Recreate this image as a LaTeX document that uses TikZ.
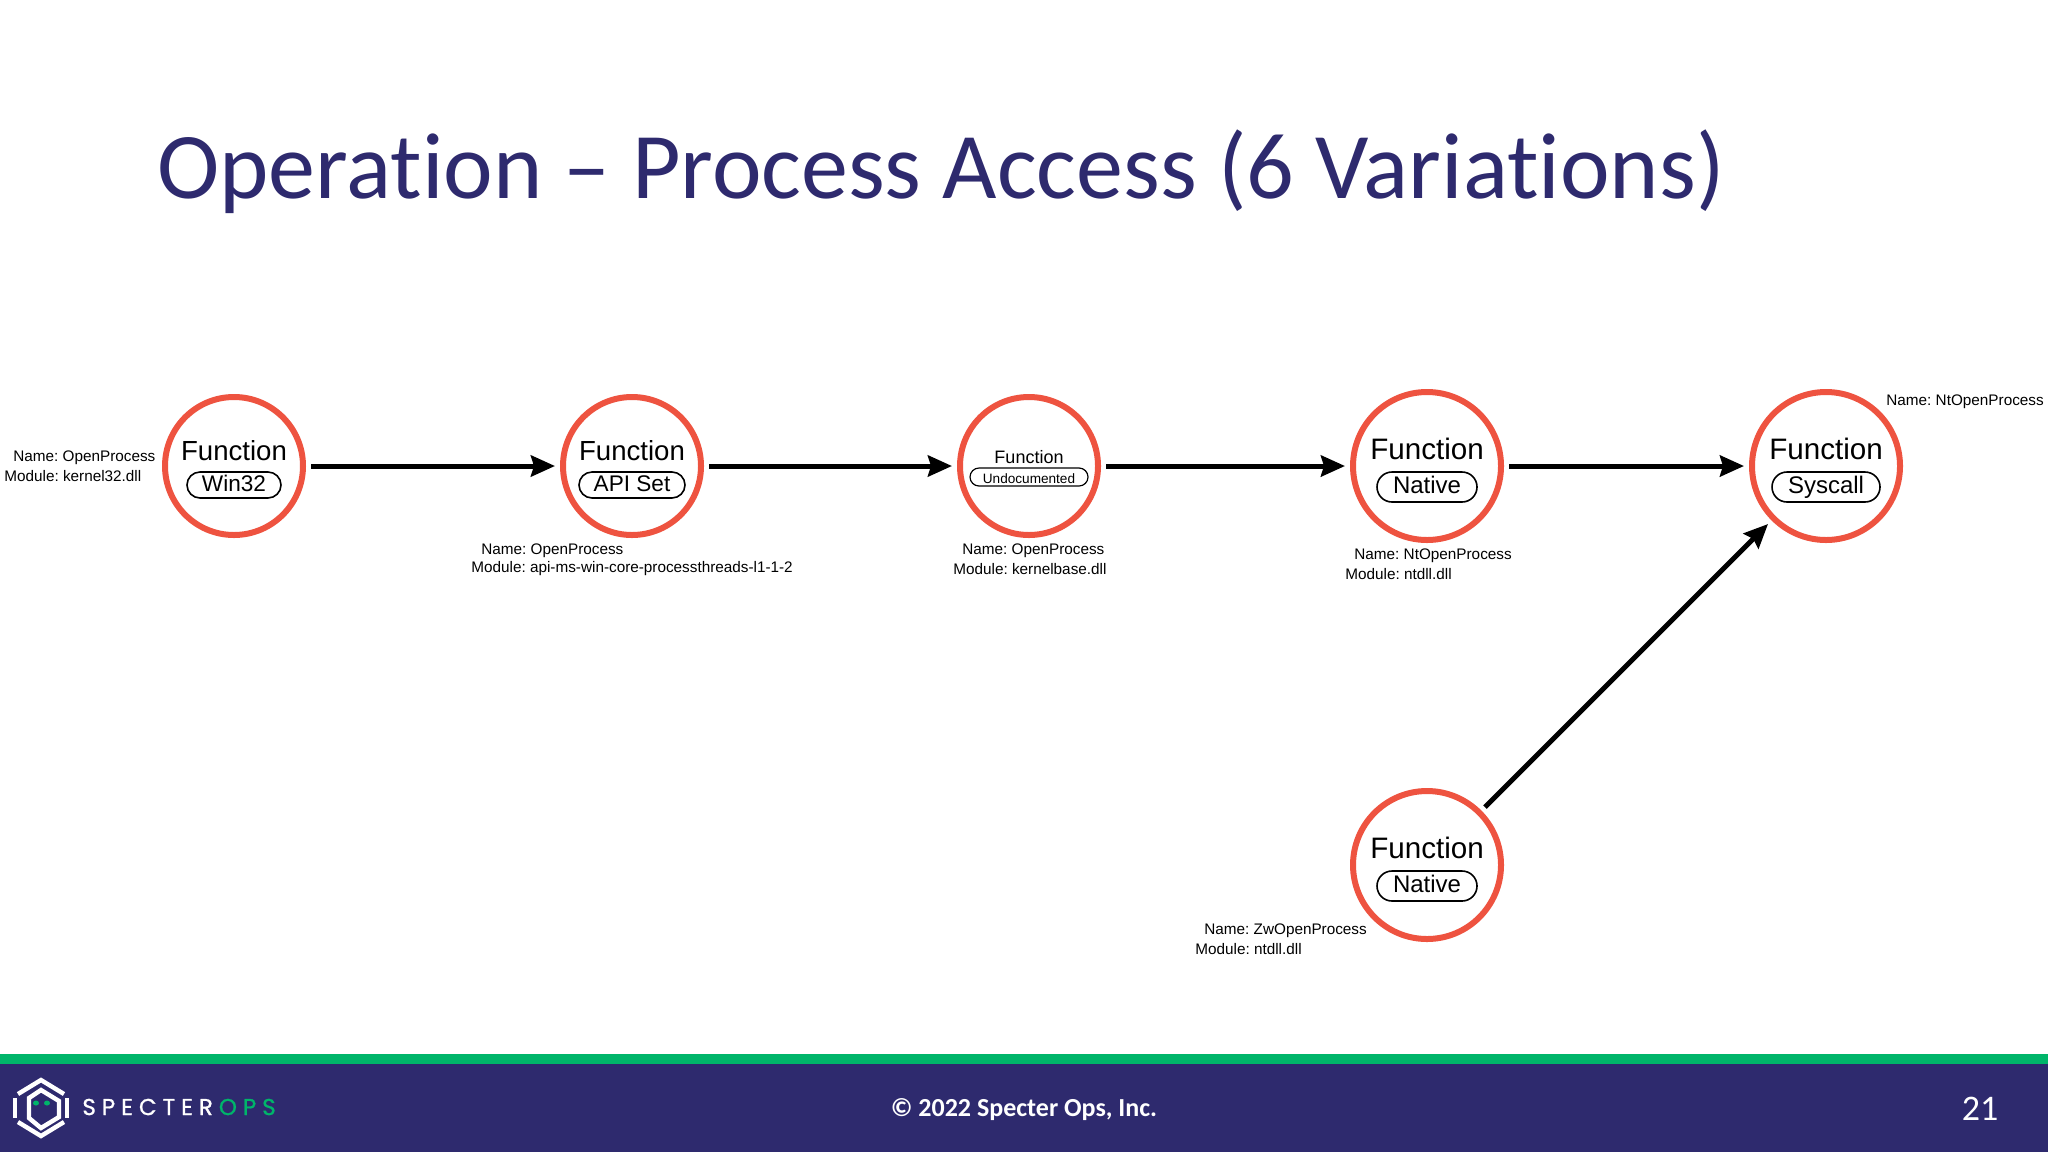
\documentclass[tikz,border=0pt]{standalone}
\usepackage{fontspec}
\setmainfont[Ligatures=NoCommon]{Carlito}
\newfontfamily\labelfont{Liberation Sans}
\newfontfamily\brandfont[LetterSpace=26,FakeBold=1]{Poppins}
\usetikzlibrary{arrows.meta,shapes.misc}

\definecolor{specternavy}{HTML}{2E2A6E}
\definecolor{spectergreen}{HTML}{00B56A}
\definecolor{ringred}{HTML}{EE5340}

\tikzset{
	funcsmall/.style={circle, draw=ringred, line width=3pt, fill=white, minimum size=69pt, inner sep=0pt},
	funcbig/.style={funcsmall, minimum size=74pt},
	fntext/.style={font=\labelfont\fontsize{13.8}{15}\selectfont, inner sep=0pt},
	kindpill/.style={rounded rectangle, draw=black, line width=0.8pt, font=\labelfont\fontsize{11.3}{13}\selectfont, inner sep=0pt, minimum width=47pt, minimum height=13pt, text height=1.5ex, text depth=0.2ex},
	info/.style={anchor=west, inner sep=0pt, font=\labelfont\fontsize{7.65}{10}\selectfont\frenchspacing},
	flow/.style={-{Stealth[length=12pt,width=10.5pt,inset=1.5pt]}, line width=2.5pt, shorten <=2.5pt, shorten >=2.5pt},
	logoline/.style={white, line width=2.2pt, line join=miter},
}

\begin{document}
\begin{tikzpicture}[x=0.5pt, y=-0.5pt]
	\useasboundingbox (0,0) rectangle (2048,1152);

	% 1. Footer band and title
	\fill[specternavy] (0,1064) rectangle (2048,1152);
	\fill[spectergreen] (0,1054) rectangle (2048,1064);
	\node[text=specternavy, font=\fontsize{47}{54}\selectfont, anchor=west, inner sep=0pt] (title) at (157,172) {Operation – Process Access (6 Variations)};

	% 2. Function nodes
	\node[funcsmall] (win32) at (234,466) {};
	\node[funcsmall] (apiset) at (632,466) {};
	\node[funcsmall] (undoc) at (1029,466) {};
	\node[funcbig] (native) at (1427,466) {};
	\node[funcbig] (syscall) at (1826,466) {};
	\node[funcbig] (zwnative) at (1427,865) {};

	% --- Text inside the circles ---
	\node[fntext] (win32fn) at (234,451) {Function};
	\node[kindpill] (win32kind) at (234,485) {Win32};
	\node[fntext] (apisetfn) at (632,451) {Function};
	\node[kindpill, minimum width=53pt] (apisetkind) at (632,485) {API Set};
	\node[fntext, font=\labelfont\fontsize{9}{11}\selectfont] (undocfn) at (1029,457) {Function};
	\node[kindpill, minimum width=59pt, minimum height=9pt, line width=0.6pt, font=\labelfont\fontsize{6.8}{8}\selectfont] (undockind) at (1029,477) {Undocumented};
	\node[fntext, font=\labelfont\fontsize{14.8}{16}\selectfont] (nativefn) at (1427,449) {Function};
	\node[kindpill, minimum width=50pt, minimum height=15pt, font=\labelfont\fontsize{12}{14}\selectfont] (nativekind) at (1427,487) {Native};
	\node[fntext, font=\labelfont\fontsize{14.8}{16}\selectfont] (syscallfn) at (1826,449) {Function};
	\node[kindpill, minimum width=54pt, minimum height=15pt, font=\labelfont\fontsize{12}{14}\selectfont] (syscallkind) at (1826,487) {Syscall};
	\node[fntext, font=\labelfont\fontsize{14.8}{16}\selectfont] (zwnativefn) at (1427,848) {Function};
	\node[kindpill, minimum width=50pt, minimum height=15pt, font=\labelfont\fontsize{12}{14}\selectfont] (zwnativekind) at (1427,886) {Native};

	% 3. Connectors
	\draw[flow] (win32) -- (apiset);
	\draw[flow] (apiset) -- (undoc);
	\draw[flow] (undoc) -- (native);
	\draw[flow] (native) -- (syscall);
	\draw[flow] (zwnative) -- (syscall);

	% 4. Name and module labels
	\node[info] (win32name) at (13,458) {Name: OpenProcess};
	\node[info] (win32mod) at (4,476) {Module: kernel32.dll};
	\node[info] (apisetname) at (481,551) {Name: OpenProcess};
	\node[info] (apisetmod) at (471,569) {Module: api-ms-win-core-processthreads-l1-1-2};
	\node[info] (undocname) at (962,551) {Name: OpenProcess};
	\node[info] (undocmod) at (953,569) {Module: kernelbase.dll};
	\node[info] (nativename) at (1354,556) {Name: NtOpenProcess};
	\node[info] (nativemod) at (1345,574) {Module: ntdll.dll};
	\node[info] (syscallname) at (1886,402) {Name: NtOpenProcess};
	\node[info] (zwnativename) at (1204,931) {Name: ZwOpenProcess};
	\node[info] (zwnativemod) at (1195,949) {Module: ntdll.dll};

	% 5. Logo drawn as plain strokes
	\draw[logoline] (18,1094) -- (41,1080) -- (64,1094);
	\draw[logoline] (18,1122) -- (41,1136) -- (64,1122);
	\draw[logoline] (15,1098) -- (15,1118);
	\draw[logoline] (67,1098) -- (67,1118);
	\draw[logoline] (29,1098) -- (41,1090) -- (59,1101) -- (59,1117) -- (41,1128) -- (29,1118) -- cycle;
	\fill[spectergreen] (36,1103) ellipse (3 and 2.5);
	\fill[spectergreen] (47,1103) ellipse (3 and 2.5);
	\node[anchor=west, inner sep=0pt, font=\brandfont\fontsize{11.5}{13}\selectfont, text=white] (brand) at (82,1107) {SPECTER\hspace{3pt}\textcolor{spectergreen}{OPS}};

	% 6. Footer texts
	\node[text=white, font=\bfseries\fontsize{13}{15}\selectfont] (copyright) at (1024,1110) {© 2022 Specter Ops, Inc.};
	\node[text=white, font=\fontsize{18}{20}\selectfont] (pagenum) at (1980,1109) {21};

\end{tikzpicture}
\end{document}
